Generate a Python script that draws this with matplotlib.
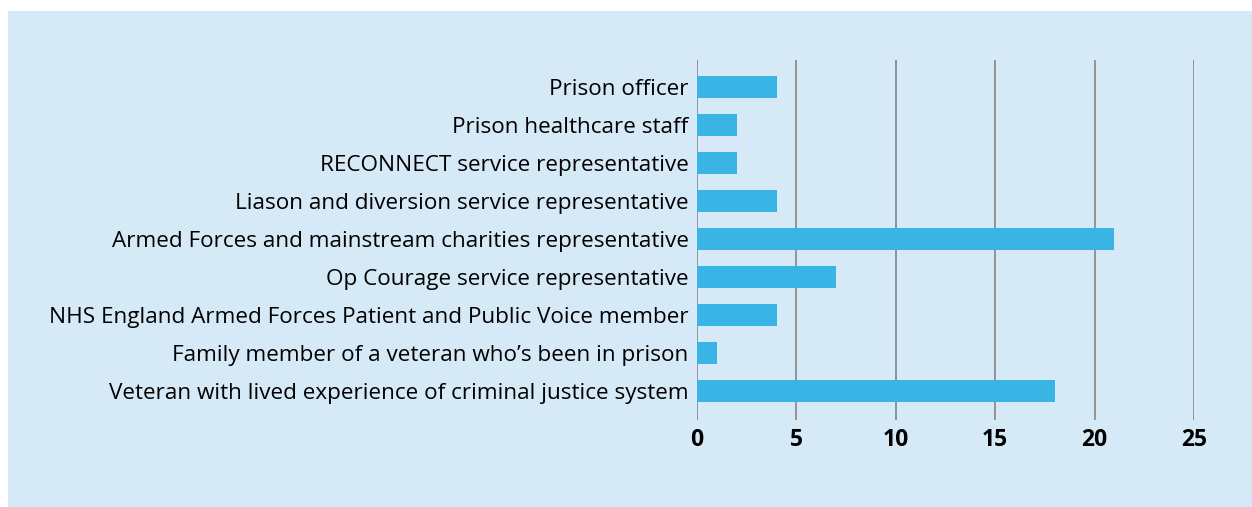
import matplotlib.pyplot as plt
from matplotlib.patches import Rectangle

categories = [
    "Prison officer",
    "Prison healthcare staff",
    "RECONNECT service representative",
    "Liason and diversion service representative",
    "Armed Forces and mainstream charities representative",
    "Op Courage service representative",
    "NHS England Armed Forces Patient and Public Voice member",
    "Family member of a veteran who\u2019s been in prison",
    "Veteran with lived experience of criminal justice system",
]
values = [4, 2, 2, 4, 21, 7, 4, 1, 18]
xticks = [0, 5, 10, 15, 20, 25]

W, H = 1252, 507
bg = "#d6e9f7"
bar_col = "#3ab3e5"

plt.rcParams["font.family"] = ["Open Sans", "DejaVu Sans"]

fig = plt.figure(figsize=(W / 100, H / 100), dpi=100)
fig.patch.set_facecolor("white")
fig.patches.append(Rectangle((8 / W, 0), 1 - 8 / W, 1 - 11 / H,
                             transform=fig.transFigure, facecolor=bg,
                             edgecolor="none", zorder=-10))

ax = fig.add_axes([697 / W, 1 - 420 / H, (1194 - 697) / W, (420 - 60) / H])
ax.set_zorder(5)
ax.set_facecolor("none")

y = list(range(len(categories)))
ax.barh(y, values, height=0.58, color=bar_col, zorder=2)

ax.set_xlim(0, 25)
ax.set_ylim(len(categories) - 1 + 0.76, -0.71)
ax.set_xticks(xticks)
ax.set_xticklabels([str(t) for t in xticks], fontsize=16.5, fontweight="bold")
ax.set_yticks(y)
ax.set_yticklabels(categories, fontsize=16.2, color="#000000")
ax.tick_params(axis="both", length=0)
ax.tick_params(axis="x", pad=6)
ax.tick_params(axis="y", pad=6)

ax.grid(axis="x", color="#8c8c8c", linewidth=1.3, zorder=1)
ax.set_axisbelow(True)
for s in ax.spines.values():
    s.set_visible(False)

fig.savefig("out.png", dpi=100)
